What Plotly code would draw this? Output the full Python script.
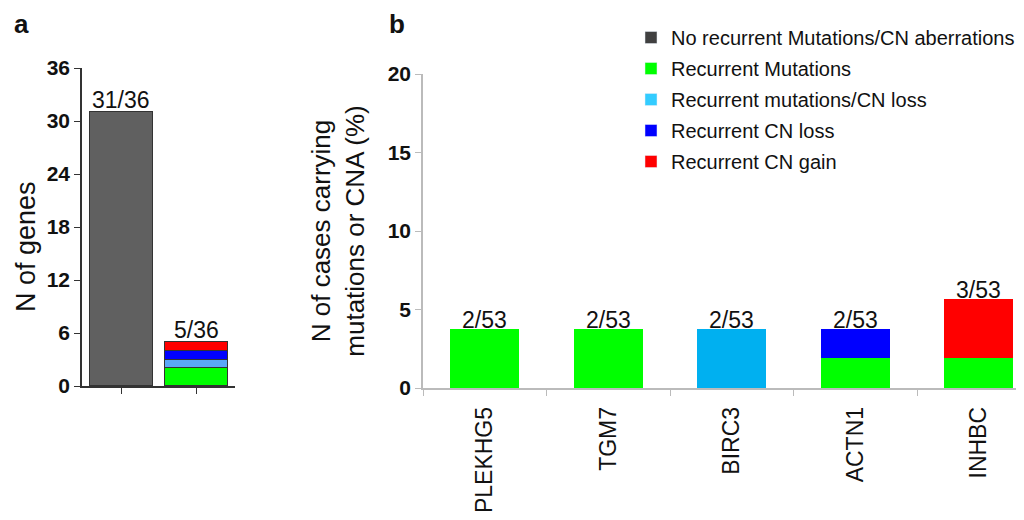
import plotly.graph_objects as go

# ---------------- data ----------------
a_categories = ["No recurrent", "Recurrent"]
a_none = [31, 0]
a_mut = [0, 2]
a_mutloss = [0, 1]
a_loss = [0, 1]
a_gain = [0, 1]
a_labels = ["31/36", "5/36"]
a_ticks = [0, 6, 12, 18, 24, 30, 36]

b_genes = ["PLEKHG5", "TGM7", "BIRC3", "ACTN1", "INHBC"]
b_mut_1 = [1.89, 1.89, 0, 1.89, 1.89]
b_mut_2 = [1.89, 1.89, 0, 0, 0]
b_mutloss = [0, 0, 3.77, 0, 0]
b_loss = [0, 0, 0, 1.89, 0]
b_gain = [0, 0, 0, 0, 3.77]
b_labels = ["2/53", "2/53", "2/53", "2/53", "3/53"]
b_ticks = [0, 5, 10, 15, 20]

legend_names = ["No recurrent Mutations/CN aberrations", "Recurrent Mutations",
                "Recurrent mutations/CN loss", "Recurrent CN loss", "Recurrent CN gain"]
legend_colors = ["#404040", "#00ff00", "#33ccff", "#0000ff", "#ff0000"]

FONT = "Liberation Sans, Arial, sans-serif"
W, H = 1024, 520
OFF = 8  # page body margin offset


def px(x):
    return (x - OFF) / W


def py(y):
    return (H - (y - OFF)) / H


fig = go.Figure()

# ---------- panel a ----------
a_series = [(a_none, "#606060"), (a_mut, "#00ff00"), (a_mutloss, "#5aa8f8"),
            (a_loss, "#0000ff"), (a_gain, "#ff0000")]
for vals, col in a_series:
    fig.add_trace(go.Bar(x=a_categories, y=vals, marker=dict(color=col, line=dict(color="#333333", width=1.5)),
                         width=0.84, xaxis="x", yaxis="y", showlegend=False, hoverinfo="skip"))

a_totals = [sum(v) for v in zip(a_none, a_mut, a_mutloss, a_loss, a_gain)]
for c, t, lab in zip(a_categories, a_totals, a_labels):
    fig.add_annotation(x=c, y=t, text=lab, xref="x", yref="y", showarrow=False, yanchor="bottom",
                       yshift=-3, font=dict(size=23, color="#111", family=FONT))

# ---------- panel b ----------
b_series = [(b_mut_1, "#00ff00"), (b_mut_2, "#00ff00"), (b_mutloss, "#00b0f0"),
            (b_loss, "#0000ff"), (b_gain, "#ff0000")]
for vals, col in b_series:
    fig.add_trace(go.Bar(x=b_genes, y=vals, marker=dict(color=col, line=dict(width=0)),
                         width=0.56, xaxis="x2", yaxis="y2", showlegend=False, hoverinfo="skip"))

b_totals = [sum(v) for v in zip(b_mut_1, b_mut_2, b_mutloss, b_loss, b_gain)]
for g, t, lab in zip(b_genes, b_totals, b_labels):
    fig.add_annotation(x=g, y=t, text=lab, xref="x2", yref="y2", showarrow=False, yanchor="bottom",
                       yshift=-6, font=dict(size=23, color="#111", family=FONT))

# ---------- legend entries ----------
for i, (name, col) in enumerate(zip(legend_names, legend_colors)):
    fig.add_trace(go.Bar(x=[None], y=[None], name=name, marker=dict(color=col), legendgroup=f"g{i}",
                         xaxis="x2", yaxis="y2", showlegend=True))

# panel letters
fig.add_annotation(x=px(21), y=1.0, xref="paper", yref="paper", text="<b>a</b>", borderpad=0,
                   showarrow=False, xanchor="center", yanchor="top", font=dict(size=26, color="#111", family=FONT))
fig.add_annotation(x=px(397), y=1.0, xref="paper", yref="paper", text="<b>b</b>", borderpad=0,
                   showarrow=False, xanchor="center", yanchor="top", font=dict(size=26, color="#111", family=FONT))
# panel a y title
fig.add_annotation(x=px(26), y=py(247), xref="paper", yref="paper", text="N of genes", textangle=-90,
                   showarrow=False, xanchor="center", yanchor="middle", font=dict(size=27, color="#111", family=FONT))

fig.update_layout(
    width=W, height=H,
    margin=dict(l=0, r=0, t=0, b=0, autoexpand=False),
    paper_bgcolor="white", plot_bgcolor="white",
    barmode="stack",
    bargap=0,
    font=dict(family=FONT, color="#111"),
    showlegend=True,
    legend=dict(x=623 / W, y=1 - 10 / H, xanchor="left", yanchor="top", traceorder="grouped",
                font=dict(size=20, color="#111", family=FONT), tracegroupgap=2,
                itemwidth=30, bgcolor="rgba(0,0,0,0)"),
    xaxis=dict(domain=[px(82), px(235)], range=[-0.52, 1.52], showticklabels=False, automargin=False,
               ticks="outside", ticklen=6, tickcolor="#333", showline=True, linecolor="#333", linewidth=1.5,
               showgrid=False, zeroline=False, fixedrange=True),
    yaxis=dict(domain=[py(386), py(68)], range=[0, 36], tickvals=a_ticks, automargin=False,
               ticks="outside", ticklen=6, tickcolor="#333", showline=True, linecolor="#333", linewidth=1.5,
               showgrid=False, zeroline=False,
               tickfont=dict(size=21, weight="bold", color="#111", family=FONT)),
    xaxis2=dict(domain=[px(423), 1.0], range=[-0.5, -0.5 + (W + OFF - 423) / 123.5], anchor="y2",
                automargin=False,
                type="category", tickson="boundaries", ticks="outside", ticklen=6, tickcolor="#bbbbbb",
                showline=True, linecolor="#bbbbbb", linewidth=1.5, showgrid=False, zeroline=False,
                tickangle=-90, ticklabelstandoff=8, tickfont=dict(size=23, color="#111", family=FONT)),
    yaxis2=dict(domain=[py(388), py(74)], range=[0, 20], tickvals=b_ticks, anchor="x2",
                automargin=False,
                ticks="outside", ticklen=6, tickcolor="#bbbbbb", showline=True, linecolor="#bbbbbb", linewidth=1.5,
                showgrid=False, zeroline=False,
                tickfont=dict(size=21, weight="bold", color="#111", family=FONT),
                title=dict(text="N of cases carrying<br>mutations or CNA (%)",
                           font=dict(size=26, color="#111", family=FONT), standoff=16)),
)

fig.write_html("out.html")
